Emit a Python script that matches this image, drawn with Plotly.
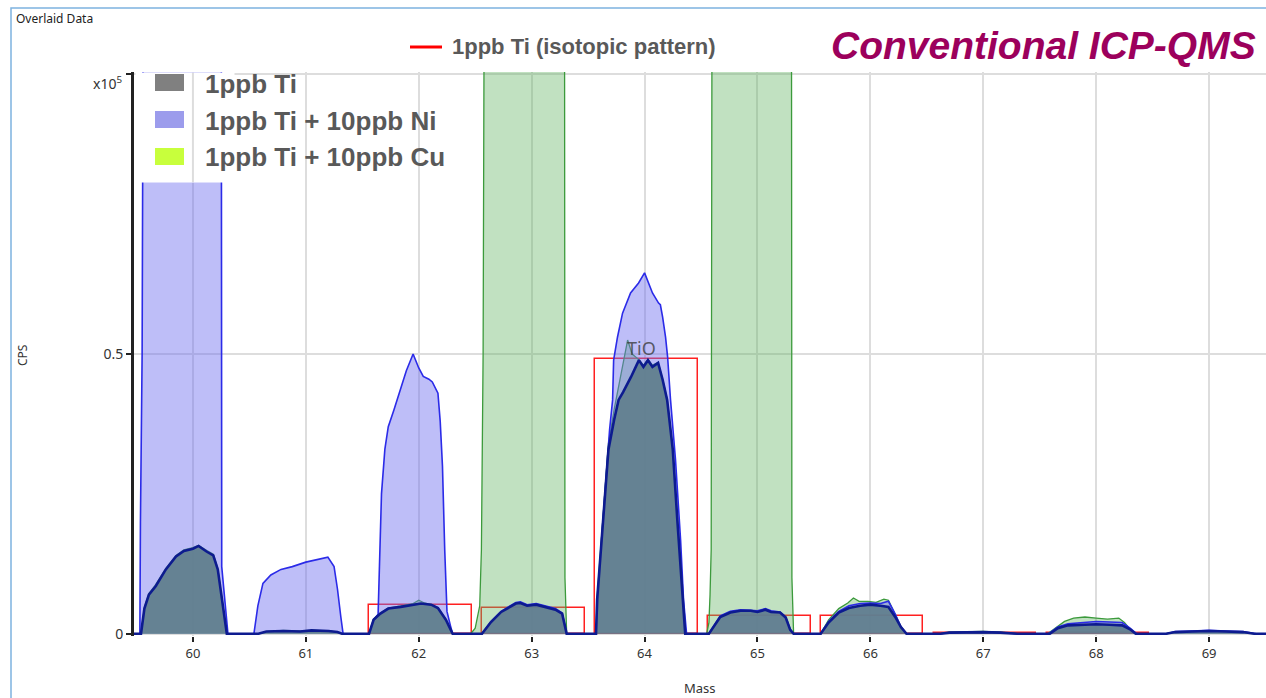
import plotly.graph_objects as go

# ---------------- data (CPS in units of 1e5) ----------------
ti_mass = [59.40, 59.50, 59.54, 59.57, 59.61, 59.67, 59.76, 59.85, 59.92, 60.00, 60.05, 60.12, 60.18, 60.22, 60.26, 60.30,
           60.58, 60.65, 60.80, 60.95, 61.05, 61.20, 61.28, 61.32,
           61.56, 61.60, 61.66, 61.73, 61.84, 61.95, 62.02, 62.11, 62.17, 62.24, 62.30,
           62.56, 62.64, 62.73, 62.81, 62.86, 62.90, 62.96, 63.04, 63.12, 63.21, 63.27, 63.29, 63.31,
           63.57, 63.58, 63.62, 63.65, 63.68, 63.73, 63.77, 63.81, 63.88, 63.95, 63.99, 64.03, 64.07, 64.12, 64.16, 64.20, 64.25, 64.29, 64.33, 64.36,
           64.57, 64.67, 64.76, 64.85, 64.94, 65.00, 65.07, 65.12, 65.20, 65.25, 65.29, 65.32,
           65.56, 65.63, 65.72, 65.81, 65.91, 66.00, 66.09, 66.16, 66.22, 66.27, 66.32,
           66.62, 66.70, 66.85, 67.00, 67.15, 67.30,
           67.59, 67.66, 67.75, 67.86, 68.00, 68.12, 68.23, 68.30, 68.35,
           68.62, 68.70, 68.85, 69.00, 69.15, 69.30, 69.40, 69.60]
ti_cps = [0, 0, 0, 0.045, 0.070, 0.085, 0.115, 0.138, 0.148, 0.152, 0.157, 0.147, 0.140, 0.115, 0.055, 0,
          0, 0.004, 0.005, 0.004, 0.006, 0.005, 0.003, 0,
          0, 0.025, 0.036, 0.045, 0.048, 0.052, 0.054, 0.052, 0.046, 0.025, 0,
          0, 0.021, 0.039, 0.048, 0.054, 0.055, 0.050, 0.052, 0.048, 0.043, 0.036, 0.016, 0,
          0, 0.061, 0.168, 0.257, 0.329, 0.382, 0.418, 0.432, 0.459, 0.489, 0.477, 0.489, 0.477, 0.484, 0.454, 0.418, 0.329, 0.204, 0.079, 0,
          0, 0.030, 0.038, 0.041, 0.041, 0.039, 0.043, 0.039, 0.038, 0.029, 0.007, 0,
          0, 0.020, 0.038, 0.046, 0.050, 0.052, 0.050, 0.048, 0.030, 0.012, 0,
          0, 0.002, 0.003, 0.003, 0.002, 0,
          0, 0.010, 0.015, 0.016, 0.017, 0.016, 0.015, 0.008, 0,
          0, 0.003, 0.004, 0.005, 0.004, 0.003, 0, 0]

ni_mass = [59.40, 59.53, 59.535, 59.55, 59.565, 60.25, 60.255, 60.28, 60.31,
           60.54, 60.575, 60.62, 60.69, 60.78, 60.88, 61.00, 61.115, 61.195, 61.25, 61.28, 61.31, 61.33,
           61.56, 61.60, 61.64, 61.65, 61.67, 61.70, 61.73, 61.78, 61.84, 61.89, 61.95, 62.00, 62.04, 62.09, 62.12, 62.17, 62.19, 62.21, 62.23, 62.25, 62.28, 62.30,
           62.56, 62.64, 62.73, 62.81, 62.86, 62.90, 62.96, 63.04, 63.12, 63.21, 63.27, 63.29, 63.31,
           63.57, 63.59, 63.62, 63.655, 63.69, 63.717, 63.726, 63.76, 63.805, 63.876, 63.947, 64.00, 64.07, 64.124, 64.14, 64.16, 64.186, 64.204, 64.23, 64.274, 64.319, 64.345, 64.372,
           64.57, 64.67, 64.76, 64.85, 64.94, 65.00, 65.07, 65.12, 65.20, 65.25, 65.29, 65.32,
           65.56, 65.63, 65.72, 65.81, 65.91, 66.00, 66.09, 66.16, 66.22, 66.27, 66.32,
           66.62, 66.70, 66.85, 67.00, 67.15, 67.30,
           67.58, 67.66, 67.75, 67.86, 68.00, 68.12, 68.23, 68.30, 68.36,
           68.62, 68.70, 68.85, 69.00, 69.15, 69.30, 69.42, 69.60]
ni_cps = [0, 0, 0.2, 0.5, 1.5, 1.5, 0.12, 0.06, 0,
          0, 0.05, 0.09, 0.105, 0.115, 0.12, 0.128, 0.134, 0.137, 0.12, 0.08, 0.03, 0,
          0, 0.025, 0.035, 0.12, 0.25, 0.33, 0.37, 0.40, 0.44, 0.47, 0.50, 0.475, 0.46, 0.455, 0.45, 0.43, 0.38, 0.30, 0.15, 0.04, 0.015, 0,
          0, 0.022, 0.040, 0.049, 0.056, 0.057, 0.052, 0.054, 0.050, 0.045, 0.037, 0.017, 0,
          0, 0.06, 0.17, 0.275, 0.364, 0.418, 0.489, 0.53, 0.573, 0.609, 0.627, 0.645, 0.609, 0.591, 0.588, 0.566, 0.53, 0.495, 0.418, 0.311, 0.168, 0.061, 0,
          0, 0.032, 0.040, 0.043, 0.042, 0.041, 0.045, 0.041, 0.039, 0.030, 0.008, 0,
          0, 0.022, 0.040, 0.050, 0.054, 0.055, 0.054, 0.058, 0.035, 0.013, 0,
          0, 0.002, 0.003, 0.003, 0.002, 0,
          0, 0.012, 0.018, 0.020, 0.022, 0.021, 0.020, 0.010, 0,
          0, 0.004, 0.005, 0.006, 0.005, 0.004, 0, 0]

cu_mass = [59.40, 59.50, 59.54, 59.57, 59.61, 59.67, 59.76, 59.85, 59.92, 60.00, 60.05, 60.12, 60.18, 60.22, 60.26, 60.30,
           60.58, 60.65, 60.80, 60.95, 61.05, 61.20, 61.28, 61.32,
           61.56, 61.60, 61.66, 61.73, 61.84, 61.95, 62.00, 62.05, 62.11, 62.17, 62.24, 62.30,
           62.46, 62.50, 62.54, 62.555, 62.57, 62.585, 63.29, 63.295, 63.31,
           63.57, 63.58, 63.62, 63.65, 63.68, 63.73, 63.77, 63.80, 63.85, 63.89, 63.95, 63.99, 64.03, 64.07, 64.12, 64.16, 64.20, 64.25, 64.29, 64.33, 64.36,
           64.55, 64.57, 64.58, 64.59, 64.60, 65.30, 65.305, 65.32,
           65.56, 65.63, 65.72, 65.80, 65.85, 65.90, 65.98, 66.05, 66.12, 66.16, 66.22, 66.27, 66.32,
           66.62, 66.70, 66.85, 67.00, 67.15, 67.30,
           67.57, 67.65, 67.72, 67.80, 67.90, 68.00, 68.10, 68.20, 68.25, 68.30, 68.36,
           68.62, 68.70, 68.85, 69.00, 69.15, 69.30, 69.40, 69.60]
cu_cps = [0, 0, 0, 0.047, 0.072, 0.088, 0.117, 0.140, 0.150, 0.154, 0.158, 0.149, 0.142, 0.117, 0.057, 0,
          0, 0.004, 0.006, 0.005, 0.006, 0.005, 0.003, 0,
          0, 0.026, 0.037, 0.046, 0.050, 0.054, 0.060, 0.055, 0.052, 0.047, 0.026, 0,
          0, 0.01, 0.05, 0.15, 0.5, 1.5, 1.5, 0.1, 0,
          0, 0.065, 0.18, 0.27, 0.34, 0.40, 0.44, 0.47, 0.525, 0.50, 0.49, 0.48, 0.49, 0.48, 0.485, 0.455, 0.42, 0.33, 0.21, 0.08, 0,
          0, 0.02, 0.07, 0.15, 1.5, 1.5, 0.1, 0,
          0, 0.025, 0.045, 0.055, 0.064, 0.058, 0.058, 0.056, 0.062, 0.060, 0.035, 0.012, 0,
          0, 0.003, 0.004, 0.004, 0.003, 0,
          0, 0.012, 0.022, 0.028, 0.030, 0.028, 0.026, 0.028, 0.020, 0.008, 0,
          0, 0.003, 0.004, 0.005, 0.004, 0.003, 0, 0]

iso_mass = [62, 63, 64, 65, 66, 67, 68]
iso_cps = [0.052, 0.046, 0.491, 0.032, 0.032, 0.001, 0.002]

x_ticks = [60, 61, 62, 63, 64, 65, 66, 67, 68, 69]
y_ticks = [0, 0.5, 1.0]
y_ticklabels = ["0", "0.5", " "]

legend_names = ["1ppb Ti", "1ppb Ti + 10ppb Ni", "1ppb Ti + 10ppb Cu"]
legend_colors = ["#808080", "#9C9CEC", "#C8FF3C"]

# ---------------- layout helpers ----------------
W, H = 1266, 698
ML, MR, MT, MB = 134, 0, 72, 62
PW, PH = W - ML - MR, H - MT - MB


def px(x):
    return (x - ML) / PW


def py(y):
    return (H - MB - y) / PH


fig = go.Figure()
fig.add_trace(go.Scatter(x=cu_mass, y=cu_cps, mode="lines", fill="tozeroy",
                         fillcolor="rgba(100,180,100,0.4)",
                         line=dict(color="#3C9A3C", width=1.3), showlegend=False))
fig.add_trace(go.Scatter(x=ni_mass, y=ni_cps, mode="lines", fill="tozeroy",
                         fillcolor="rgba(110,110,240,0.45)",
                         line=dict(color="#2B2BE8", width=1.6), showlegend=False))
fig.add_trace(go.Scatter(x=ti_mass, y=ti_cps, mode="lines", fill="tozeroy",
                         fillcolor="rgba(95,125,140,0.9)",
                         line=dict(color="#0D1B8F", width=2.6), showlegend=False))
fig.add_trace(go.Bar(x=iso_mass, y=iso_cps, width=0.91, offset=-0.44,
                     marker=dict(color="rgba(0,0,0,0)", line=dict(color="#FF2020", width=1.5)),
                     showlegend=False))

shapes = []
# outer frame
shapes.append(dict(type="rect", xref="paper", yref="paper", x0=px(11), x1=px(1275), y0=py(705), y1=py(8),
                   line=dict(color="#7EB3E0", width=1.5), fillcolor="rgba(0,0,0,0)", layer="below"))
# legend background (covers the off-scale top of the Ni peak)
shapes.append(dict(type="rect", xref="paper", yref="paper", x0=px(136), x1=px(234), y0=py(182), y1=py(73),
                   line=dict(color="#FFFFFF", width=1), fillcolor="#FFFFFF", opacity=1, layer="above"))
shapes.append(dict(type="line", xref="x", yref="paper", x0=60, x1=60, y0=py(182), y1=py(73),
                   line=dict(color="#DDDDDD", width=2), layer="above"))
sw_y = [(74, 91), (111, 128), (148, 165)]
for (y0, y1), c in zip(sw_y, legend_colors):
    shapes.append(dict(type="rect", xref="paper", yref="paper", x0=px(155), x1=px(184), y0=py(y1), y1=py(y0),
                       line=dict(width=0), fillcolor=c, layer="above"))
# red legend line
shapes.append(dict(type="line", xref="paper", yref="paper", x0=px(410), x1=px(442), y0=py(47), y1=py(47),
                   line=dict(color="#FF0000", width=3)))

annotations = []
for (y0, y1), name in zip(sw_y, legend_names):
    annotations.append(dict(xref="paper", yref="paper", x=px(203), y=py((y0 + y1) / 2 + 1), xanchor="left",
                            yanchor="middle", showarrow=False, text="<b>" + name + "</b>",
                            font=dict(family="Liberation Sans", size=26, color="#595959")))
annotations += [
    dict(xref="paper", yref="paper", x=px(450), y=py(47), xanchor="left", yanchor="middle", showarrow=False,
         text="<b>1ppb Ti (isotopic pattern)</b>", font=dict(family="Liberation Sans", size=22, color="#595959")),
    dict(xref="paper", yref="paper", x=px(1258), y=py(45), xanchor="right", yanchor="middle", showarrow=False,
         text="<b><i>Conventional ICP-QMS</i></b>", font=dict(family="Liberation Sans", size=39, color="#9C005C")),
    dict(xref="paper", yref="paper", x=px(14), y=py(18), xanchor="left", yanchor="middle", showarrow=False,
         text="Overlaid Data", font=dict(family="Noto Sans", size=12, color="#222")),
    dict(xref="paper", yref="paper", x=px(124), y=py(83), xanchor="right", yanchor="middle", showarrow=False,
         text="x10<sup>5</sup>", font=dict(family="Noto Sans", size=14, color="#333")),
    dict(xref="paper", yref="paper", x=px(22), y=py(355), xanchor="center", yanchor="middle", showarrow=False,
         text="CPS", textangle=-90, font=dict(family="Noto Sans", size=12, color="#333")),
    dict(xref="paper", yref="paper", x=px(700), y=py(688), xanchor="center", yanchor="middle", showarrow=False,
         text="Mass", font=dict(family="Noto Sans", size=13, color="#333")),
    dict(xref="x", yref="y", x=63.97, y=0.511, xanchor="center", yanchor="middle", showarrow=False,
         text="TiO", font=dict(family="Noto Sans", size=18, color="rgba(60,60,60,0.8)")),
]

fig.update_layout(
    width=W, height=H,
    margin=dict(l=ML, r=MR, t=MT, b=MB),
    plot_bgcolor="white", paper_bgcolor="white",
    showlegend=False, bargap=0,
    shapes=shapes, annotations=annotations,
    xaxis=dict(range=[59.478, 69.504], tickvals=x_ticks, ticks="outside", ticklen=5, tickwidth=2,
               tickcolor="#222", showgrid=True, gridcolor="#DDDDDD", gridwidth=2, zeroline=False,
               showline=False, tickfont=dict(family="Noto Sans", size=13, color="#333")),
    yaxis=dict(range=[-0.004, 1.004], tickvals=y_ticks, ticktext=y_ticklabels, ticks="outside", ticklen=5,
               tickwidth=2, tickcolor="#222", showline=True, linecolor="#222", linewidth=3,
               showgrid=True, gridcolor="#DDDDDD", gridwidth=2, zeroline=False,
               tickfont=dict(family="Noto Sans", size=14, color="#333")),
)

fig.write_html("out.html")
